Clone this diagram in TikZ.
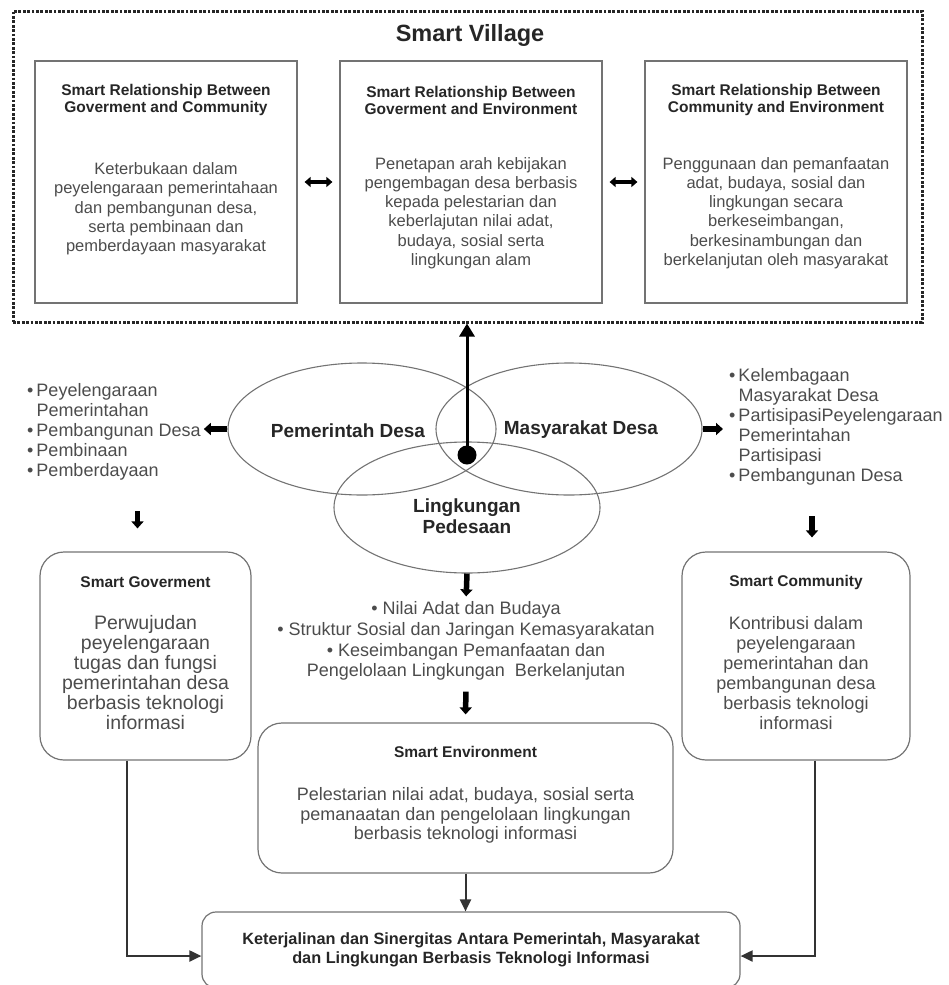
\documentclass[tikz,border=0pt]{standalone}
\usepackage{fontspec}
\setmainfont{Liberation Sans}
\usetikzlibrary{shapes.geometric,arrows.meta,positioning}
\definecolor{textgrey}{gray}{0.3}
\definecolor{linegrey}{gray}{0.45}

\begin{document}
\begin{tikzpicture}
[x=1pt,y=-1pt,
  framedecorate/.style={draw=black!85,line width=3pt,dash pattern=on 2.8pt off 1.6pt,minimum width=909pt,minimum height=311pt,inner sep=0pt},%
  boxdecorate/.style={draw=linegrey,line width=1.2pt,minimum width=262pt,minimum height=242pt,inner sep=0pt},%
  roundboxdecorate/.style={draw=linegrey,line width=1.2pt,rounded corners=24pt,inner sep=0pt},%
  ellipsedecorate/.style={shape=ellipse,draw=linegrey,line width=1.1pt,minimum width=266pt,minimum height=132pt,inner sep=0pt},%
  headdecorate/.style={font=\bfseries\fontsize{15.5}{17}\selectfont,text=black!85,align=center,inner sep=0pt},%
  bodydecorate/.style={font=\fontsize{16.5}{19.3}\selectfont,text=textgrey,align=center,inner sep=0pt},%
  labeldecorate/.style={font=\bfseries\fontsize{19}{21}\selectfont,text=black!85,align=center,inner sep=0pt},%
  listdecorate/.style={font=\fontsize{18}{20}\selectfont,text=textgrey,align=left,inner sep=0pt},%
  blockdecorate/.style={line width=5.5pt,-{Triangle[length=7pt,width=12pt]}},%
  twowaydecorate/.style={line width=4pt,{Triangle[length=6pt,width=10pt]}-{Triangle[length=6pt,width=10pt]}},%
  linedecorate/.style={draw=black!80,line width=2pt,-{Triangle[length=12pt,width=11pt]}}]
\useasboundingbox (0,0) rectangle (949,985);
%% smart village frame
\node[framedecorate] (village) at (467.5,166.5) {};
\node[font=\bfseries\fontsize{23.5}{26}\selectfont,text=black!85] (title) at (470,35) {Smart Village};
%% relationship boxes
\node[boxdecorate] (gc) at (166,182) {};
\node[boxdecorate] (ge) at (471,182) {};
\node[boxdecorate] (ce) at (776,182) {};
\node[headdecorate] (gchead) at (166,100) {Smart Relationship Between\\Goverment and Community};
\node[headdecorate] (gehead) at (471,100) {Smart Relationship Between\\Goverment and Environment};
\node[headdecorate] (cehead) at (776,100) {Smart Relationship Between\\Community and Environment};
\node[bodydecorate] (gcbody) at (166,209) {Keterbukaan dalam\\peyelengaraan pemerintahaan\\dan pembangunan desa,\\serta pembinaan dan\\pemberdayaan masyarakat};
\node[bodydecorate] (gebody) at (471,213) {Penetapan arah kebijakan\\pengembagan desa berbasis\\kepada pelestarian dan\\keberlajutan nilai adat,\\budaya, sosial serta\\lingkungan alam};
\node[bodydecorate] (cebody) at (776,213) {Penggunaan dan pemanfaatan\\adat, budaya, sosial dan\\lingkungan secara\\berkeseimbangan,\\berkesinambungan dan\\berkelanjutan oleh masyarakat};
\foreach \startnode/\endnode in {gc/ge, ge/ce} {
  \draw[twowaydecorate,shorten <=7pt,shorten >=7pt] (\startnode.east) -- (\endnode.west);
}
%% three ellipses
\node[ellipsedecorate,minimum width=268pt] (pd) at (362,429) {};
\node[ellipsedecorate] (md) at (569,429) {};
\node[ellipsedecorate,minimum height=131pt] (lp) at (467,507.5) {};
\node[labeldecorate] (pdlabel) at (348,431) {Pemerintah Desa};
\node[labeldecorate] (mdlabel) at (581,430) {Masyarakat Desa};
\node[labeldecorate] (lplabel) at (467,516) {Lingkungan\\Pedesaan};
\node[circle,fill=black,minimum size=19pt,inner sep=0pt] (core) at (467,455) {};
\draw[line width=3pt,-{Triangle[length=13pt,width=15pt]}] (core.center) -- (core |- village.south);
%% lists
\node[listdecorate,anchor=west] (pdlist) at (27,432) {\textbullet\,Peyelengaraan\\\phantom{\textbullet\,}Pemerintahan\\\textbullet\,Pembangunan Desa\\\textbullet\,Pembinaan\\\textbullet\,Pemberdayaan};
\node[listdecorate,anchor=west] (mdlist) at (729,427) {\textbullet\,Kelembagaan\\\phantom{\textbullet\,}Masyarakat Desa\\\textbullet\,PartisipasiPeyelengaraan\\\phantom{\textbullet\,}Pemerintahan\\\phantom{\textbullet\,}Partisipasi\\\textbullet\,Pembangunan Desa};
\node[listdecorate,align=center,font=\fontsize{18}{20.7}\selectfont] (lplist) at (466,641) {\textbullet\ Nilai Adat dan Budaya\\\textbullet\ Struktur Sosial dan Jaringan Kemasyarakatan\\\textbullet\ Keseimbangan Pemanfaatan dan\\Pengelolaan Lingkungan\ \ Berkelanjutan};
\draw[blockdecorate,shorten >=3pt] (pd.west) -- (pd.west -| pdlist.east);
\draw[blockdecorate,shorten >=6pt] (md.east) -- (md.east -| mdlist.west);
%% smart boxes
\node[roundboxdecorate,minimum width=211pt,minimum height=208pt] (sgov) at (145.5,656) {};
\node[roundboxdecorate,minimum width=228pt,minimum height=208pt] (sc) at (796,656) {};
\node[roundboxdecorate,minimum width=415pt,minimum height=150pt] (senv) at (465.5,798) {};
\node[headdecorate] (sgovhead) at (145.5,582) {Smart Goverment};
\node[headdecorate] (schead) at (796,582) {Smart Community};
\node[headdecorate] (senvhead) at (465.5,752) {Smart Environment};
\node[bodydecorate,font=\fontsize{19.5}{20}\selectfont] (sgovbody) at (145.5,673) {Perwujudan\\peyelengaraan\\tugas dan fungsi\\pemerintahan desa\\berbasis teknologi\\informasi};
\node[bodydecorate,font=\fontsize{18}{20}\selectfont] (scbody) at (796,673) {Kontribusi dalam\\peyelengaraan\\pemerintahan dan\\pembangunan desa\\berbasis teknologi\\informasi};
\node[bodydecorate,font=\fontsize{18}{19.5}\selectfont] (senvbody) at (465.5,815.5) {Pelestarian nilai adat, budaya, sosial serta\\pemanaatan dan pengelolaan lingkungan\\berbasis teknologi informasi};
\node[roundboxdecorate,rounded corners=14pt,minimum width=538pt,minimum height=76pt,font=\bfseries\fontsize{16.3}{19}\selectfont,text=black!85,align=center] (syn) at (471,950) {Keterjalinan dan Sinergitas Antara Pemerintah, Masyarakat\\dan Lingkungan Berbasis Teknologi Informasi};
%% short arrows
\draw[blockdecorate] ([xshift=-8pt,yshift=40pt]sgov.north) -- ([xshift=-8pt,yshift=23pt]sgov.north);
\draw[blockdecorate] ([xshift=16pt,yshift=35pt]sc.north) -- ([xshift=16pt,yshift=14pt]sc.north);
\draw[blockdecorate,shorten >=5pt] (lp.south) -- (lplist.north);
\draw[blockdecorate,shorten <=11pt,shorten >=8pt] (lplist.south) -- (senv.north);
%% connectors to synergy box
\draw[linedecorate] ([xshift=-18.5pt]sgov.south) |- ([yshift=-6pt]syn.west);
\draw[linedecorate] ([xshift=19pt]sc.south) |- ([yshift=-6pt]syn.east);
\draw[linedecorate] (senv.south) -- (senv.south |- syn.north);
\end{tikzpicture}
\end{document}
